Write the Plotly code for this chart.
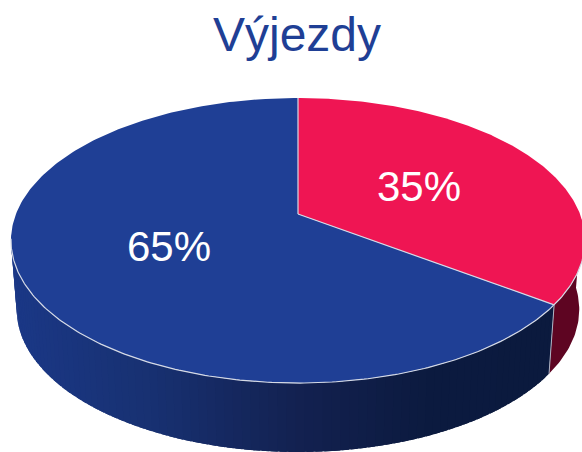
import numpy as np
import plotly.graph_objects as go

# Data
title_text = "Výjezdy"
categories = ["Red share", "Blue share"]
shares = [35, 65]
labels = ["35%", "65%"]

# Style
top_colors = ["#EF1553", "#1F3F95"]
side_red = "#5E0522"
side_stops = [(20, (27, 56, 134)), (150, (24, 49, 114)), (300, (19, 33, 80)), (420, (12, 27, 64)), (560, (11, 26, 62))]
edge = "#D5DAE6"
label_nudges = [(0, -2), (2, 0)]

# Projection of the tilted disc to the 582x452 canvas
CX, CY, SX, Q, R = 298.0, 214.0, 282.0, -97.8, 0.186
DEPTH, SCALE_B = 69.0, 0.98


def project(theta_deg, radius=1.0, bottom=False):
    t = np.radians(theta_deg)
    X = radius * np.sin(t)
    Y = radius * np.cos(t)
    w = 1 + R * Y
    x = SX * X / w
    y = (CY + Q * Y) / w
    if bottom:
        return CX + x * SCALE_B, y + DEPTH
    return CX + x, y


def wall_color(x):
    xs = [s[0] for s in side_stops]
    rgb = [np.interp(x, xs, [s[1][i] for s in side_stops]) for i in range(3)]
    return "rgb(%d,%d,%d)" % tuple(rgb)


cum = np.cumsum([0] + shares)
angles = 360.0 * cum / cum[-1]
fig = go.Figure()


def poly(xs, ys, color, lw=0.0, lc=None):
    fig.add_trace(go.Scatter(x=list(xs), y=list(ys), mode="lines", fill="toself", fillcolor=color,
                             line=dict(color=lc or color, width=lw), hoverinfo="skip", showlegend=False))


split = angles[1]
LEFT_LIMIT, RIGHT_LIMIT = 262.0, 92.0

# Side wall, red part
th = np.linspace(RIGHT_LIMIT, split, 40)
tx, ty = project(th)
bx, by = project(th, bottom=True)
poly(np.r_[tx, bx[::-1]], np.r_[ty, by[::-1]], side_red)

# Side wall, blue part drawn in overlapping bands for the shading
steps = np.linspace(split, LEFT_LIMIT, 91)
for a, b in zip(steps[:-1], steps[1:]):
    th = np.linspace(a, min(b + 1.2, LEFT_LIMIT), 4)
    tx, ty = project(th)
    bx, by = project(th, bottom=True)
    c = wall_color(float(np.mean(bx)))
    poly(np.r_[tx, bx[::-1]], np.r_[ty, by[::-1]], c)

# Top faces
for i, color in enumerate(top_colors):
    th = np.linspace(angles[i], angles[i + 1], 240)
    ax, ay = project(th)
    poly(np.r_[CX, ax, CX], np.r_[CY, ay, CY], color)

# Edges: radial separators, front rim, wall join
for a in angles[:2]:
    ex, ey = project(a)
    fig.add_trace(go.Scatter(x=[CX, ex], y=[CY, ey], mode="lines", line=dict(color=edge, width=1.2),
                             hoverinfo="skip", showlegend=False))
th = np.linspace(RIGHT_LIMIT + 8, LEFT_LIMIT - 2, 240)
rx, ry = project(th)
fig.add_trace(go.Scatter(x=rx, y=ry, mode="lines", line=dict(color=edge, width=1.2),
                         hoverinfo="skip", showlegend=False))
jx0, jy0 = project(split)
jx1, jy1 = project(split, bottom=True)
fig.add_trace(go.Scatter(x=[jx0, jx1], y=[jy0, jy1], mode="lines", line=dict(color="#AEB4C4", width=1),
                         hoverinfo="skip", showlegend=False))

# Percent labels at half radius
for i, text in enumerate(labels):
    mx, my = project((angles[i] + angles[i + 1]) / 2, 0.5)
    fig.add_annotation(x=mx, y=my, text=text, showarrow=False,
                       xshift=label_nudges[i][0], yshift=label_nudges[i][1],
                       font=dict(family="Liberation Sans", size=42, color="white"))

fig.update_layout(
    width=582, height=452, margin=dict(l=0, r=0, t=0, b=0),
    paper_bgcolor="white", plot_bgcolor="white", showlegend=False,
    xaxis=dict(range=[0, 582], visible=False, fixedrange=True),
    yaxis=dict(range=[452, 0], visible=False, fixedrange=True),
    title=dict(text=title_text, x=297 / 582, xanchor="center", y=1 - 34 / 452, yanchor="middle",
               font=dict(family="Liberation Sans", size=48, color="#1F3F95")),
)
fig.write_html("out.html", config={"displayModeBar": False},
               post_script="document.body.style.margin='0';document.documentElement.style.overflow='hidden';")
